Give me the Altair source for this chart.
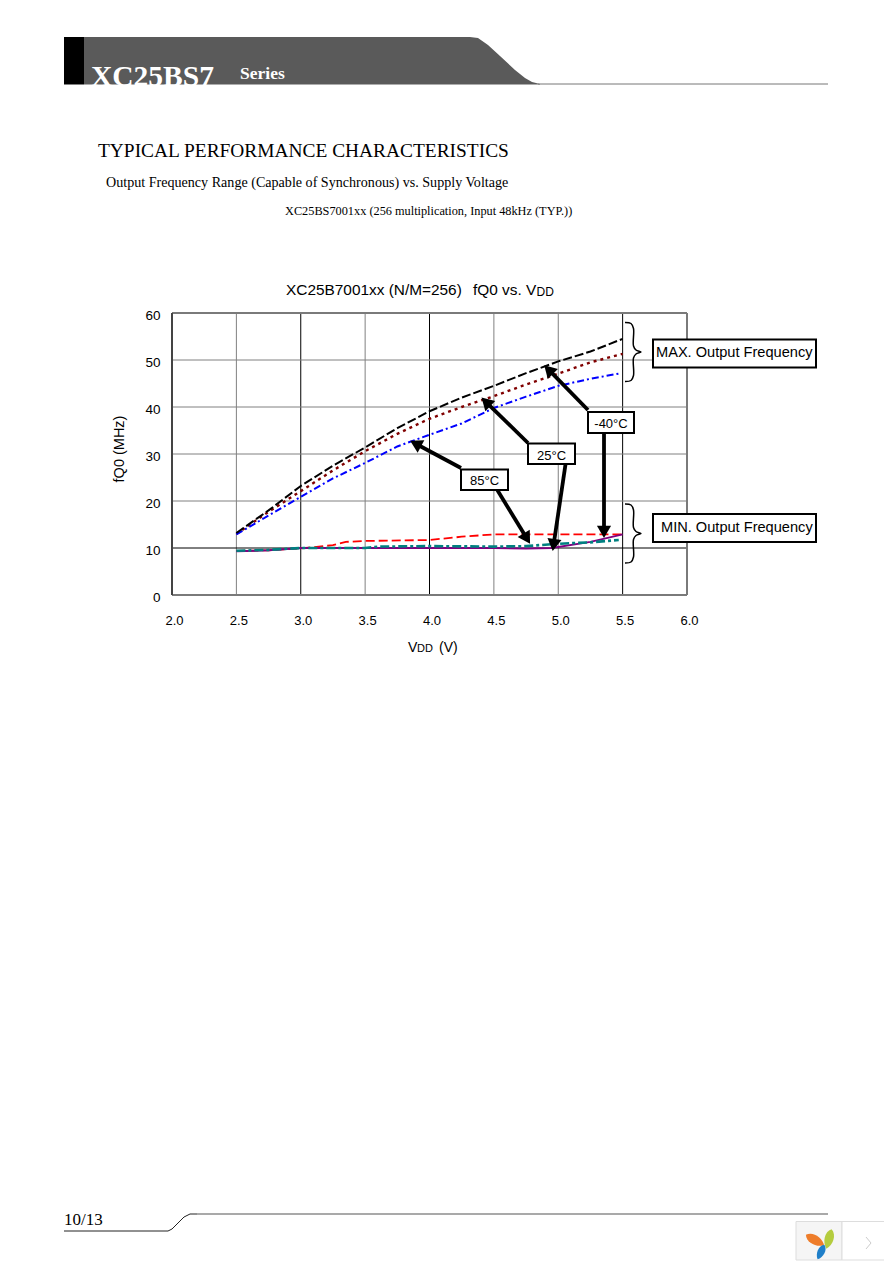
import math
import altair as alt
import pandas as pd

# ---- chart data -------------------------------------------------------
vdd = [2.5, 2.75, 3.0, 3.25, 3.5, 3.75, 4.0, 4.25, 4.5, 4.75, 5.0, 5.25, 5.5]
max_m40 = [13.2, 18.0, 23.2, 27.5, 31.4, 35.5, 39.1, 42.0, 44.5, 47.2, 49.7, 51.8, 54.5]
max_25 = [13.0, 17.7, 22.1, 26.5, 30.6, 34.3, 37.5, 40.0, 42.3, 44.8, 47.1, 49.5, 51.3]
max_85_x = [2.5, 2.75, 3.0, 3.25, 3.5, 3.75, 4.0, 4.25, 4.5, 4.75, 5.0, 5.25, 5.47]
max_85 = [12.9, 16.9, 20.9, 24.8, 28.1, 31.6, 34.1, 36.5, 39.8, 42.2, 44.5, 46.0, 47.1]
min_red_x = [2.5, 2.75, 3.0, 3.25, 3.35, 3.5, 4.0, 4.25, 4.5, 5.0, 5.5]
min_red = [9.4, 9.5, 9.9, 10.6, 11.3, 11.5, 11.7, 12.4, 12.9, 12.9, 12.9]
min_teal_x = [2.5, 2.75, 3.0, 3.5, 3.6, 4.0, 4.5, 4.75, 5.0, 5.25, 5.47]
min_teal = [9.4, 9.6, 10.0, 10.0, 10.3, 10.4, 10.3, 10.4, 10.9, 11.2, 11.7]
min_purple_x = [2.5, 2.75, 3.0, 4.0, 4.5, 4.75, 4.95, 5.25, 5.5]
min_purple = [9.3, 9.5, 10.0, 10.0, 10.0, 9.9, 10.0, 11.3, 12.9]

x_ticks = [2.0, 2.5, 3.0, 3.5, 4.0, 4.5, 5.0, 5.5, 6.0]
y_ticks = [0, 10, 20, 30, 40, 50, 60]
grid_v_gray = [2.5, 3.5, 4.5, 5.0]
grid_v_black = [3.0, 4.0, 5.5]
grid_h_gray = [20, 30, 40, 50]
grid_h_black = [10]

# ---- frame ------------------------------------------------------------
L, T, W, H = 172, 313, 515, 282
CW, CH = 876, 1255
xs = alt.Scale(domain=[2, 6], nice=False, zero=False)
ys = alt.Scale(domain=[0, 60], nice=False, zero=False)
SANS = "Liberation Sans"
SERIF = "Liberation Serif"


def dx(p):
    return 2 + (p - L) / W * 4


def dy(p):
    return (T + H - p) / H * 60


X = alt.X("x:Q", scale=xs, title=None)
Y = alt.Y("y:Q", scale=ys, title=None, stack=None)
X2 = alt.X2("x2:Q")
Y2 = alt.Y2("y2:Q")
layers = []

# the axes come from this first layer
base = alt.Chart(pd.DataFrame({"x": x_ticks[:1], "y": y_ticks[:1]})).mark_point(opacity=0).encode(
    x=alt.X("x:Q", scale=xs, title=None,
            axis=alt.Axis(values=x_ticks, format=".1f", grid=False, domain=False, ticks=False,
                          labelFontSize=13, labelFont=SANS, labelColor="#000000", labelPadding=19,
                          labelOffset=2, labelFlush=False, labelOverlap=False)),
    y=alt.Y("y:Q", scale=ys, title=None,
            axis=alt.Axis(values=y_ticks, grid=False, domain=False, ticks=False,
                          labelFontSize=13.5, labelFont=SANS, labelColor="#000000", labelPadding=12,
                          labelOffset=2, labelFlush=False, labelOverlap=False)),
)
layers.append(base)


def rect(x0, y0, x1, y1, **kw):
    d = pd.DataFrame({"x": [dx(x0)], "x2": [dx(x1)], "y": [dy(y0)], "y2": [dy(y1)]})
    layers.append(alt.Chart(d).mark_rect(clip=False, **kw).encode(x=X, x2=X2, y=Y, y2=Y2))


def poly(pts, interp="linear", **kw):
    d = pd.DataFrame({"x": [dx(p[0]) for p in pts], "y": [dy(p[1]) for p in pts], "i": range(len(pts))})
    layers.append(alt.Chart(d).mark_line(clip=False, interpolate=interp, **kw)
                  .encode(x=X, y=Y, order=alt.Order("i:Q")))


def text(s, px, py, size, font=SANS, color="#000000", align="left", **kw):
    d = pd.DataFrame({"t": [s]})
    layers.append(alt.Chart(d).mark_text(font=font, fontSize=size, color=color, align=align,
                                         baseline="middle", **kw)
                  .encode(x=alt.value(px - L), y=alt.value(py - T), text="t:N"))


def symbol(shape, px, py, size, color, angle=0):
    d = pd.DataFrame({"x": [dx(px)], "y": [dy(py)]})
    layers.append(alt.Chart(d).mark_point(shape=shape, size=size, filled=True, fill=color,
                                          opacity=1, angle=angle, clip=False)
                  .encode(x=X, y=Y))


def arrow(tail, tip):
    ax, ay = tip[0] - tail[0], tip[1] - tail[1]
    n = math.hypot(ax, ay)
    ux, uy = ax / n, ay / n
    poly([tail, (tip[0] - 9 * ux, tip[1] - 9 * uy)], color="#000000", strokeWidth=3.8, strokeCap="butt")
    ang = math.degrees(math.atan2(ux, -uy)) % 360
    symbol("triangle", tip[0] - 6.1 * ux, tip[1] - 6.1 * uy, 200, "#000000", ang)


def brace(mid, half):
    top, bot = mid - half, mid + half
    poly([(625, top), (631, top + 1), (633.5, top + 6), (633.5, mid - 6), (636, mid - 2), (641, mid),
          (636, mid + 2), (633.5, mid + 6), (633.5, bot - 6), (631, bot - 1), (625, bot)],
         interp="catmull-rom", color="#000000", strokeWidth=1.5)


def series(xv, yv, color, dash=None, width=2.0):
    d = pd.DataFrame({"x": xv, "y": yv})
    kw = {"strokeDash": dash} if dash else {}
    layers.append(alt.Chart(d).mark_line(color=color, strokeWidth=width, clip=False, **kw).encode(x=X, y=Y))


# ---- page header ------------------------------------------------------
banner = [(84, 37), (470, 37), (478, 38), (488, 45), (500, 56), (515, 70), (525, 78), (532, 82), (540, 84)]
bd = pd.DataFrame({"x": [dx(p[0]) for p in banner], "y": [dy(p[1]) for p in banner], "y2": [dy(84.5)] * len(banner)})
layers.append(alt.Chart(bd).mark_area(color="#5a5a5a", clip=False).encode(x=X, y=Y, y2=Y2))
rect(64, 37, 84, 84.5, fill="#000000")
poly([(538, 84), (828, 84)], color="#777777", strokeWidth=1)
text("XC25BS7", 91, 77, 29.5, font=SERIF, color="#ffffff", fontWeight="bold")
text("Series", 240, 74, 17.5, font=SERIF, color="#ffffff", fontWeight="bold")
text("TYPICAL PERFORMANCE CHARACTERISTICS", 98, 150.5, 19.4, font=SERIF)
text("Output Frequency Range (Capable of Synchronous) vs. Supply Voltage", 106, 183, 14.1, font=SERIF)
text("XC25BS7001xx (256 multiplication, Input 48kHz (TYP.))", 285, 211, 12.3, font=SERIF)

# ---- page footer ------------------------------------------------------
text("10/13", 64, 1220, 17, font=SERIF)
poly([(64, 1231), (168, 1231), (172, 1229), (178, 1223), (184, 1217), (190, 1214), (197, 1214)],
     color="#222222", strokeWidth=1)
poly([(197, 1214), (828, 1214)], color="#555555", strokeWidth=1.2)
rect(796, 1221.5, 842, 1260, fill="#f5f5f5", stroke="#dddddd", strokeWidth=1)
rect(842, 1221.5, 900, 1260, fill="#ffffff", stroke="#dddddd", strokeWidth=1)
LEAF = "M0,-1 C0.65,-0.6 0.55,0.5 0,1 C-0.55,0.5 -0.65,-0.6 0,-1 Z"
symbol(LEAF, 815, 1240, 440, "#ee7d2b", 300)
symbol(LEAF, 829, 1239, 400, "#b4cc3e", 15)
symbol(LEAF, 821, 1252, 260, "#1f7fc9", 25)
poly([(866, 1237), (871, 1243), (866, 1249)], color="#cccccc", strokeWidth=1)

# ---- plot grid --------------------------------------------------------
for vals, col in ((grid_v_gray, "#808080"), (grid_v_black, "#000000")):
    layers.append(alt.Chart(pd.DataFrame({"x": vals})).mark_rule(color=col, strokeWidth=1).encode(x=X))
for vals, col in ((grid_h_gray, "#808080"), (grid_h_black, "#000000")):
    layers.append(alt.Chart(pd.DataFrame({"y": vals})).mark_rule(color=col, strokeWidth=1).encode(y=Y))
layers.append(alt.Chart(pd.DataFrame({"y": [0, 60]})).mark_rule(color="#7a7a7a", strokeWidth=2).encode(y=Y))
layers.append(alt.Chart(pd.DataFrame({"x": [6]})).mark_rule(color="#7a7a7a", strokeWidth=2).encode(x=X))
layers.append(alt.Chart(pd.DataFrame({"x": [2]})).mark_rule(color="#444444", strokeWidth=2).encode(x=X))

# ---- series -----------------------------------------------------------
series(vdd, max_25, "#800000", [3, 4], 2.4)
series(max_85_x, max_85, "#0000ff", [7, 3, 2, 3], 2.0)
series(vdd, max_m40, "#000000", [9, 3], 2.0)
series(min_red_x, min_red, "#ff0000", [9, 4], 1.8)
series(min_purple_x, min_purple, "#800080", None, 2.0)
series(min_teal_x, min_teal, "#008080", [9, 3, 3, 3], 2.6)

# ---- annotations ------------------------------------------------------
arrow((588, 410), (545.7, 366.7))
arrow((604, 432), (604, 536))
arrow((528, 443), (483, 399))
arrow((565.7, 463), (553, 549))
arrow((461, 468), (412, 441.7))
arrow((496.7, 489), (529, 542))
brace(352, 29.5)
brace(533.5, 29.5)

rect(588, 412, 634, 433, fill="#ffffff", stroke="#000000", strokeWidth=2)
rect(528, 443.5, 575, 464, fill="#ffffff", stroke="#000000", strokeWidth=2)
rect(461, 469.5, 508, 490, fill="#ffffff", stroke="#000000", strokeWidth=2)
rect(653, 339.5, 816, 367.5, fill="#ffffff", stroke="#000000", strokeWidth=2)
rect(653, 514, 816, 542, fill="#ffffff", stroke="#000000", strokeWidth=2)
text("-40°C", 611, 424, 13, align="center")
text("25°C", 551.5, 456, 13, align="center")
text("85°C", 484.5, 481, 13, align="center")
text("MAX. Output Frequency", 656, 353, 14.6)
text("MIN. Output Frequency", 661, 528, 14.6)

# ---- chart and axis titles --------------------------------------------
text("XC25B7001xx (N/M=256)", 286, 290, 15.4)
text("fQ0 vs. V", 473, 290, 15.4)
text("DD", 536.5, 291.5, 12)
text("V", 408, 648, 14)
text("DD", 417, 649, 11)
text("(V)", 439, 648, 14)
text("fQ0 (MHz)", 120, 449, 14.5, align="center", angle=270)

chart = alt.layer(*layers).properties(
    width=W,
    height=H,
    padding={"left": L - 8, "top": T - 8, "right": CW - (L - 8) - W, "bottom": CH - (T - 8) - H},
    autosize=alt.AutoSizeParams(type="none"),
    background="#ffffff",
).configure_view(stroke=None)

chart.save("out.html", embed_options={"renderer": "svg", "actions": False})
